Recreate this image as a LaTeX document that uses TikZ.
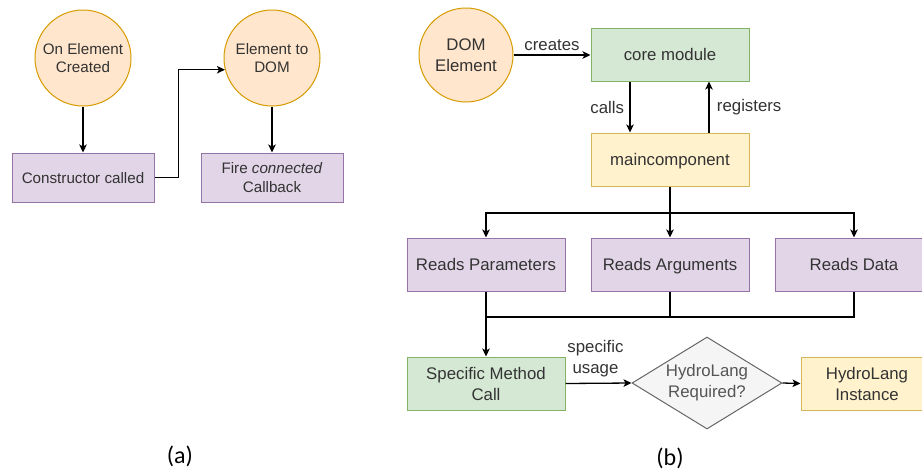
\documentclass[tikz,border=0pt]{standalone}
\usepackage{fontspec}
\setmainfont{Liberation Sans}
\newfontfamily\capfont{Carlito}
\usetikzlibrary{shapes.geometric,arrows.meta,calc}
\definecolor{orfill}{HTML}{FFE6CC}\definecolor{ordraw}{HTML}{D79B00}
\definecolor{grfill}{HTML}{D5E8D4}\definecolor{grdraw}{HTML}{82B366}
\definecolor{yefill}{HTML}{FFF2CC}\definecolor{yedraw}{HTML}{D6B656}
\definecolor{pufill}{HTML}{E1D5E7}\definecolor{pudraw}{HTML}{9673A6}
\definecolor{gyfill}{HTML}{F5F5F5}\definecolor{gydraw}{HTML}{666666}
\definecolor{txt}{HTML}{333333}\definecolor{txtgy}{HTML}{555555}
\begin{document}
\begin{tikzpicture}[x=1pt,y=-1pt,
  smallf/.style={font=\fontsize{15.2}{18.5}\selectfont},
  bigf/.style={font=\fontsize{16.8}{21}\selectfont},
  oneline/.style={text height=12pt,text depth=0.5pt},
  circ/.style={circle,draw=ordraw,fill=orfill,line width=1pt,inner sep=0pt,text=txt,align=center},
  boxbase/.style={rectangle,line width=1pt,inner sep=0pt,text=txt,align=center},
  pubox/.style={boxbase,draw=pudraw,fill=pufill},
  grbox/.style={boxbase,draw=grdraw,fill=grfill},
  yebox/.style={boxbase,draw=yedraw,fill=yefill},
  dia/.style={diamond,shape aspect=1.63,draw=gydraw,fill=gyfill,line width=1pt,inner sep=0pt,text=txtgy,align=center},
  conn/.style={line width=1.3pt,black},
  arr/.style={conn,-{Stealth[length=8pt,width=7.5pt,inset=2pt]}},
  lbl/.style={bigf,text=txt,align=center},
  captxt/.style={font=\capfont\fontsize{24}{28}\selectfont,text=black}
]
\useasboundingbox (0,0) rectangle (922,472);

% ---------- (a) ----------
\node[circ,smallf,minimum size=96pt] (c1) at (83,58) {On Element\\Created};
\node[circ,smallf,minimum size=96pt] (c2) at (272,58) {Element to\\DOM};
\node[pubox,smallf,oneline,minimum width=142pt,minimum height=49pt] (b1) at (83,177.5) {Constructor called};
\node[pubox,smallf,minimum width=142pt,minimum height=49pt] (b2) at (272,177.5) {Fire \textit{connected}\\Callback};
\draw[arr] (c1.south) -- (b1.north);
\draw[arr] (b1.east) -- ++(24,0) |- (c2.194.5);
\draw[arr] (c2.south) -- (b2.north);
\node[captxt] (capa) at (180,456) {(a)};

% ---------- (b) ----------
\node[circ,bigf,minimum size=94pt] (dom) at (466,55) {DOM\\Element};
\node[grbox,bigf,oneline,minimum width=158pt,minimum height=53pt] (core) at (670,54.5) {core module};
\node[yebox,bigf,oneline,minimum width=158pt,minimum height=53pt] (main) at (670,159.5) {maincomponent};
\node[pubox,bigf,oneline,minimum width=158pt,minimum height=53pt] (rp) at (486,264.5) {Reads Parameters};
\node[pubox,bigf,oneline,minimum width=158pt,minimum height=53pt] (ra) at (670,264.5) {Reads Arguments};
\node[pubox,bigf,oneline,minimum width=158pt,minimum height=53pt] (rd) at (854,264.5) {Reads Data};
\node[grbox,bigf,minimum width=158pt,minimum height=53pt] (smc) at (486,383.5) {Specific Method\\Call};
\node[dia,bigf,minimum width=150pt,minimum height=92pt] (hr) at (707,383) {HydroLang\\Required?};
\node[yebox,bigf,minimum width=132pt,minimum height=53pt] (hi) at (867,383.5) {HydroLang\\Instance};

\draw[arr] (dom.east) -- (core.west |- dom.east) node[lbl,midway,above=0pt] {creates};
\draw[arr] ([xshift=-40pt]core.south) -- ([xshift=-40pt]main.north) node[lbl,midway,left=2pt] {calls};
\draw[arr] ([xshift=39pt]main.north) -- ([xshift=39pt]core.south) node[lbl,midway,right=4pt] {registers};

\coordinate (split) at (670,213);
\draw[conn] (main.south) -- (split);
\draw[arr] (split) -| (rp.north);
\draw[arr] (split) -| (rd.north);
\draw[arr] (split) -- (ra.north);

\coordinate (merge) at (486,317);
\draw[conn] (rd.south) |- (merge);
\draw[conn] (ra.south) -- (ra.south |- merge);
\draw[arr] (rp.south) -- (smc.north);

\draw[arr] (smc.east) -- (hr.west) node[lbl,midway,above=2pt,xshift=-3pt] {specific\\usage};
\draw[arr] (hr.east) -- (hi.west);
\node[captxt] (capb) at (670,458) {(b)};
\end{tikzpicture}
\end{document}
